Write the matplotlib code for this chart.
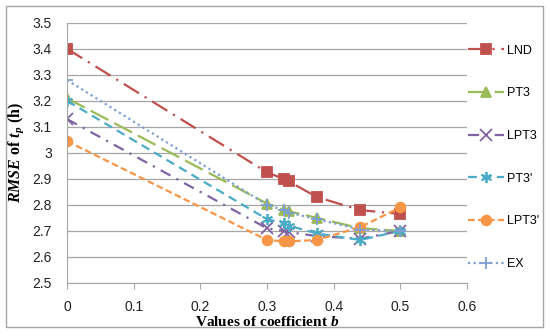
import matplotlib
matplotlib.use("Agg")
import matplotlib.pyplot as plt
from matplotlib.patches import Rectangle

# data
b = [0, 0.3, 0.325, 0.333, 0.375, 0.44, 0.5]
lnd = [3.40, 2.925, 2.90, 2.89, 2.83, 2.78, 2.765]
pt3 = [3.21, 2.805, 2.78, 2.775, 2.75, 2.71, 2.70]
lpt3 = [3.13, 2.71, 2.70, 2.695, 2.68, 2.67, 2.70]
pt3p = [3.20, 2.745, 2.73, 2.72, 2.69, 2.665, 2.70]
lpt3p = [3.045, 2.665, 2.66, 2.66, 2.665, 2.715, 2.79]
ex = [3.28, 2.80, 2.78, 2.77, 2.745, 2.705, 2.70]

names = ["LND", "PT3", "LPT3", "PT3'", "LPT3'", "EX"]
series = [lnd, pt3, lpt3, pt3p, lpt3p, ex]
colors = ["#C0504D", "#9BBB59", "#8064A2", "#4BACC6", "#F79646", "#7F9FD0"]
markers = ["s", "^", "x", (6, 2, 0), "o", "+"]
styles = [(0, (8, 3, 1, 3)), (0, (9, 3)), (0, (5, 3, 1, 3)), (0, (4, 2.5)), (0, (3, 1.5)), (0, (1, 1.5))]

plt.rcParams['mathtext.fontset'] = 'custom'
plt.rcParams['mathtext.it'] = 'Liberation Serif:bold:italic'
plt.rcParams['mathtext.rm'] = 'Liberation Serif:bold'

fig = plt.figure(figsize=(5.5, 3.36), dpi=100)
ax = fig.add_axes([0.122, 0.158, 0.727, 0.774])

for y, n, c, m, ls in zip(series, names, colors, markers, styles):
    ms = 7 if m in ("s", "o", "^") else 8
    ax.plot(b, y, color=c, marker=m, linestyle=ls, linewidth=1.6,
            markersize=ms, markeredgewidth=1.3, label=n)

ax.set_xlim(0, 0.6)
ax.set_ylim(2.5, 3.5)
ax.set_xticks([0, 0.1, 0.2, 0.3, 0.4, 0.5, 0.6])
ax.set_xticklabels(["0", "0.1", "0.2", "0.3", "0.4", "0.5", "0.6"])
ax.set_yticks([2.5, 2.6, 2.7, 2.8, 2.9, 3.0, 3.1, 3.2, 3.3, 3.4, 3.5])
ax.set_yticklabels(["2.5", "2.6", "2.7", "2.8", "2.9", "3", "3.1", "3.2", "3.3", "3.4", "3.5"])
ax.grid(axis='y', color='#A6A6A6', linewidth=0.9)
ax.set_axisbelow(True)
for s in ['top', 'right']:
    ax.spines[s].set_visible(False)
for s in ['left', 'bottom']:
    ax.spines[s].set_color('#A6A6A6')
ax.tick_params(axis='y', length=0, pad=11, labelsize=10, labelcolor='#222222')
ax.tick_params(axis='x', length=4, direction='out', color='#A6A6A6', pad=8,
               labelsize=10, labelcolor='#222222')
for t in ax.get_xticklabels() + ax.get_yticklabels():
    t.set_family('Liberation Sans')

ax.set_ylabel(r'$RMSE$ of $t_p$ (h)', family='Liberation Serif', fontweight='bold',
              fontsize=11.5, labelpad=5)
ax.set_xlabel(r'Values of coefficient $b$', family='Liberation Serif', fontweight='bold',
              fontsize=11, labelpad=1)

leg = ax.legend(loc='upper left', bbox_to_anchor=(0.99, 0.935), frameon=False,
                borderaxespad=0, labelspacing=2.45, handlelength=2.9, handletextpad=0.2,
                prop={'family': 'Liberation Sans', 'size': 9})

fig.patches.append(Rectangle((0.011, 0.027), 0.976, 0.955, transform=fig.transFigure,
                             fill=False, edgecolor='#A6A6A6', linewidth=1))

fig.savefig("out.png", dpi=100)
